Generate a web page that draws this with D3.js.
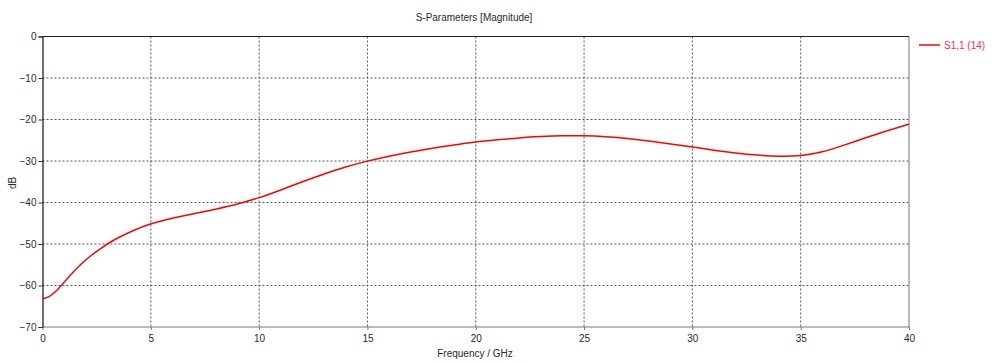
<!DOCTYPE html>
<html><head><meta charset="utf-8">
<script src="https://cdn.jsdelivr.net/npm/d3@7"></script>
<style>
body{margin:0;background:#fff;}
text{font-family:"Liberation Sans",Arial,sans-serif;font-size:10px;fill:#2a2a2a;}
</style></head>
<body><svg id="c" width="1000" height="362"></svg>
<script>
const freq = [0,0.3,0.6,1.0,1.4,1.8,2.2,2.7,3.2,3.6,4.2,5.0,5.7,6.4,7.2,8.0,9.0,10.0,11.0,12.0,13.0,14.0,15.0,16.0,17.0,18.0,19.0,20.0,21.0,22.0,23.0,24.0,25.0,26.0,27.0,28.0,29.0,30.0,31.0,32.0,33.0,34.0,35.0,36.0,37.0,38.0,39.0,40.0];
const s11 = [-63.2,-62.8,-61.6,-59.2,-56.8,-54.7,-52.9,-51.0,-49.3,-48.2,-46.7,-45.1,-44.1,-43.3,-42.5,-41.6,-40.4,-38.9,-37.0,-35.0,-33.1,-31.4,-30.0,-28.8,-27.8,-26.9,-26.1,-25.4,-24.9,-24.4,-24.1,-23.9,-23.9,-24.1,-24.5,-25.2,-25.9,-26.6,-27.4,-28.1,-28.6,-28.9,-28.8,-27.9,-26.2,-24.4,-22.7,-21.1];
const xTicks = [0,5,10,15,20,25,30,35,40];
const yTicks = [0,-10,-20,-30,-40,-50,-60,-70];
const title = "S-Parameters [Magnitude]";
const xLabel = "Frequency / GHz";
const yLabel = "dB";
const seriesName = "S1,1 (14)";

const svg = d3.select("#c");
const x = d3.scaleLinear().domain([0,40]).range([42.5,909]);
const y = d3.scaleLinear().domain([0,-70]).range([36.5,327]);

// grid
const g = svg.append("g");
g.selectAll(".vg").data(xTicks.slice(1,-1)).enter().append("line")
  .attr("x1",d=>x(d)).attr("x2",d=>x(d)).attr("y1",y(0)).attr("y2",y(-70))
  .attr("stroke","#555").attr("stroke-dasharray","2,2").attr("stroke-width",1);
g.selectAll(".hg").data(yTicks.slice(1,-1)).enter().append("line")
  .attr("x1",x(0)).attr("x2",x(40)).attr("y1",d=>y(d)).attr("y2",d=>y(d))
  .attr("stroke","#555").attr("stroke-dasharray","2,2").attr("stroke-width",1);

// frame
svg.append("line").attr("x1",x(0)).attr("x2",x(40)).attr("y1",y(0)).attr("y2",y(0)).attr("stroke","#222");
svg.append("line").attr("x1",x(40)).attr("x2",x(40)).attr("y1",y(0)).attr("y2",y(-70)).attr("stroke","#777");
svg.append("line").attr("x1",x(0)).attr("x2",x(40)).attr("y1",y(-70)).attr("y2",y(-70)).attr("stroke","#777");

// axes
const ya = svg.append("g").attr("transform",`translate(${x(0)},0)`)
  .call(d3.axisLeft(y).tickValues(yTicks).tickSize(4).tickPadding(2).tickFormat(d3.format("d")));
ya.select(".domain").attr("stroke","#111").attr("stroke-width",1.2);
ya.selectAll(".tick line").attr("stroke","#333");
const xa = svg.append("g").attr("transform",`translate(0,${y(-70)})`)
  .call(d3.axisBottom(x).tickValues(xTicks).tickSize(3).tickPadding(5).tickFormat(d3.format("d")));
xa.select(".domain").remove();
xa.selectAll(".tick line").attr("stroke","#777");
svg.selectAll(".tick text").style("font-family","Liberation Sans, Arial, sans-serif").style("font-size","10px").attr("fill","#2a2a2a");

// line
svg.append("path").datum(freq.map((f,i)=>[f,s11[i]]))
  .attr("fill","none").attr("stroke","#ff0000").attr("stroke-width",1.5)
  .attr("d",d3.line().x(d=>x(d[0])).y(d=>y(d[1])).curve(d3.curveBasis));

// text
svg.append("text").attr("x",474).attr("y",21).attr("text-anchor","middle").text(title);
svg.append("text").attr("x",475).attr("y",357).attr("text-anchor","middle").text(xLabel);
svg.append("text").attr("transform","translate(16,183) rotate(-90)").attr("text-anchor","middle").text(yLabel);

// legend
svg.append("line").attr("x1",919).attr("x2",940).attr("y1",45).attr("y2",45).attr("stroke","#ff0000").attr("stroke-width",1.5);
svg.append("text").attr("x",944).attr("y",48.5).style("fill","#e8335a").text(seriesName);
</script></body></html>
